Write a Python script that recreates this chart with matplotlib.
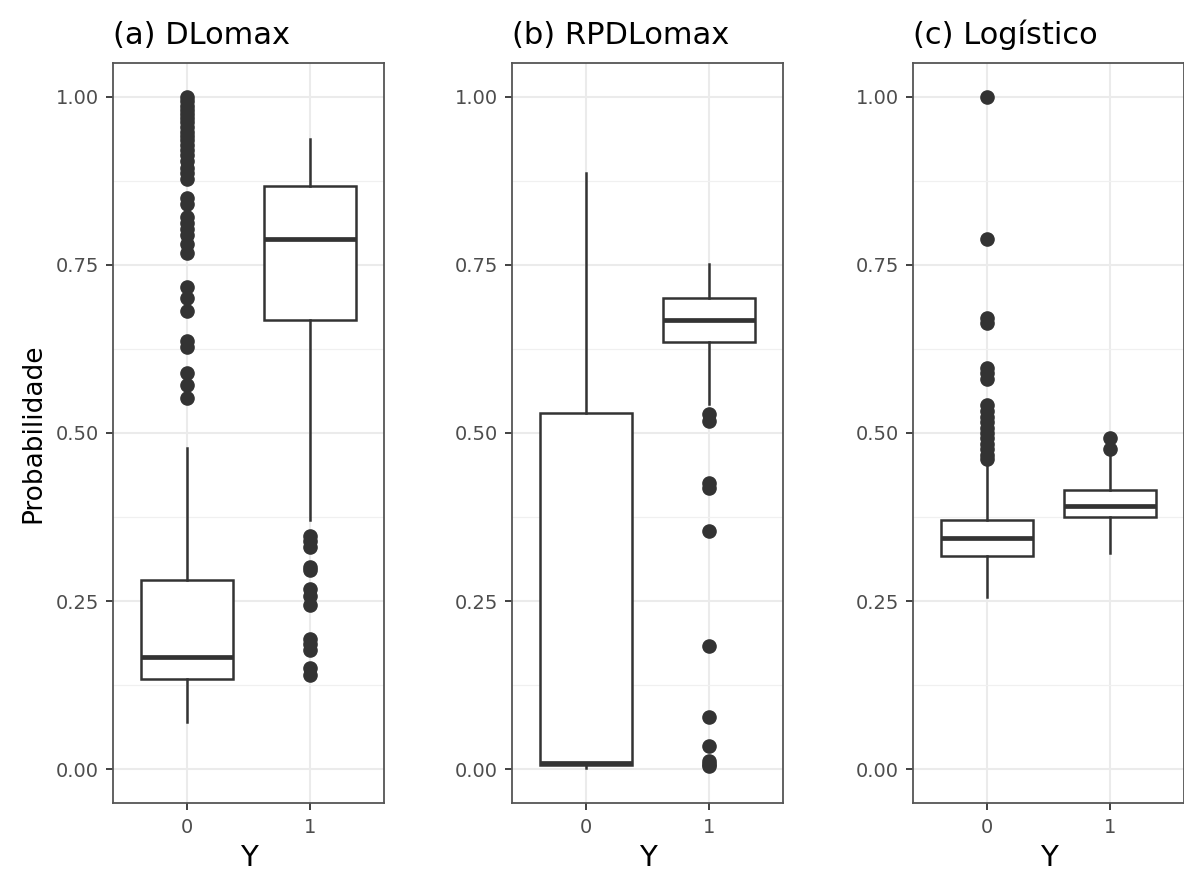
import matplotlib
matplotlib.use("Agg")
import matplotlib.pyplot as plt
import numpy as np

# categories on the x axis and panel titles
categories = ["0", "1"]
titles = ["(a) DLomax", "(b) RPDLomax", "(c) Logístico"]

# box summaries: [q1, median, q3, whisker low, whisker high]
dlomax_y0 = [0.134, 0.167, 0.282, 0.070, 0.477]
dlomax_y1 = [0.668, 0.788, 0.867, 0.371, 0.937]
rpdlomax_y0 = [0.006, 0.010, 0.529, 0.002, 0.887]
rpdlomax_y1 = [0.636, 0.668, 0.701, 0.543, 0.751]
logit_y0 = [0.317, 0.344, 0.371, 0.256, 0.457]
logit_y1 = [0.375, 0.392, 0.415, 0.322, 0.468]

# outliers
dlomax_out0 = [1.000, 0.993, 0.986, 0.980, 0.974, 0.968, 0.962, 0.955, 0.948,
               0.942, 0.935, 0.928, 0.921, 0.913, 0.905, 0.894, 0.886, 0.877,
               0.850, 0.841, 0.821, 0.812, 0.803, 0.794, 0.781, 0.767,
               0.717, 0.700, 0.682, 0.637, 0.628, 0.589, 0.572, 0.552]
dlomax_out1 = [0.347, 0.339, 0.331, 0.301, 0.296, 0.268, 0.258, 0.244,
               0.194, 0.186, 0.177, 0.150, 0.140]
rpdlomax_out0 = []
rpdlomax_out1 = [0.528, 0.518, 0.426, 0.418, 0.355, 0.184, 0.078, 0.034,
                 0.012, 0.008, 0.005]
logit_out0 = [1.000, 0.788, 0.671, 0.663, 0.597, 0.589, 0.580, 0.541, 0.532,
              0.524, 0.516, 0.508, 0.500, 0.492, 0.484, 0.476, 0.468, 0.461]
logit_out1 = [0.493, 0.476]

panels = [
    [(dlomax_y0, dlomax_out0), (dlomax_y1, dlomax_out1)],
    [(rpdlomax_y0, rpdlomax_out0), (rpdlomax_y1, rpdlomax_out1)],
    [(logit_y0, logit_out0), (logit_y1, logit_out1)],
]

plt.rcParams['font.family'] = ['DejaVu Sans']
W, H = 1184, 874
fig = plt.figure(figsize=(W / 100, H / 100), dpi=100)

lefts = [113, 512, 913]
dark = "#333333"

for i, (left, boxes) in enumerate(zip(lefts, panels)):
    ax = fig.add_axes([left / W, 1 - 803 / H, 271 / W, 740 / H])
    stats = []
    for (s, out) in boxes:
        stats.append(dict(q1=s[0], med=s[1], q3=s[2], whislo=s[3], whishi=s[4],
                          fliers=np.array(out)))
    ax.bxp(stats, positions=[1, 2], widths=0.75, showcaps=False, patch_artist=True,
           boxprops=dict(facecolor="white", edgecolor=dark, linewidth=1.8),
           medianprops=dict(color=dark, linewidth=3.4),
           whiskerprops=dict(color=dark, linewidth=1.8),
           flierprops=dict(marker="o", markerfacecolor=dark, markeredgecolor=dark,
                           markersize=9.5, linestyle="none"),
           zorder=3)
    ax.set_xlim(0.4, 2.6)
    ax.set_ylim(-0.05, 1.05)
    ax.set_xticks([1, 2])
    ax.set_xticklabels(categories)
    ax.set_yticks([0, 0.25, 0.5, 0.75, 1.0])
    ax.set_yticklabels(["0.00", "0.25", "0.50", "0.75", "1.00"])
    ax.set_yticks([0.125, 0.375, 0.625, 0.875], minor=True)
    ax.grid(True, which="major", color="#EBEBEB", linewidth=1.5, zorder=0)
    ax.grid(True, which="minor", axis="y", color="#F0F0F0", linewidth=0.9, zorder=0)
    ax.set_axisbelow(True)
    for sp in ax.spines.values():
        sp.set_color("#555555")
        sp.set_linewidth(1.3)
    ax.tick_params(which="major", length=5, width=1.3, color=dark,
                   labelcolor="#4D4D4D", labelsize=14)
    ax.tick_params(axis="x", pad=6)
    ax.tick_params(axis="y", pad=5)
    ax.tick_params(which="minor", length=0)
    ax.set_xlabel("Y", fontsize=21, labelpad=5)
    if i == 0:
        ax.set_ylabel("Probabilidade", fontsize=19, labelpad=7)
    ax.set_title(titles[i], loc="left", fontsize=22, pad=14)

fig.savefig("out.png", dpi=100)
